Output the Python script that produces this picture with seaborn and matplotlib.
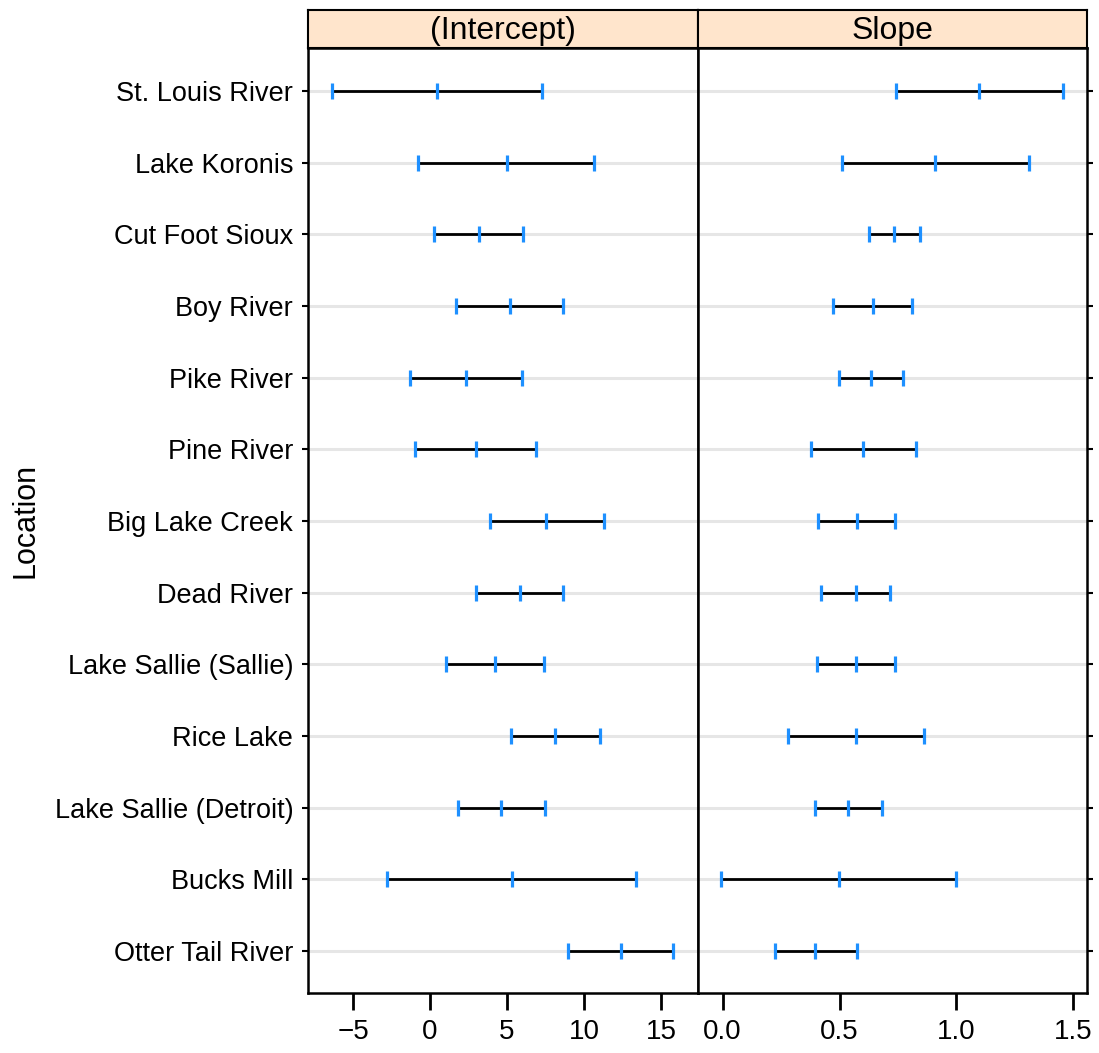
import pandas as pd
import numpy as np
import matplotlib
matplotlib.use("Agg")
import matplotlib.pyplot as plt
import seaborn as sns


# Data ........................................................................

locations = ["St. Louis River", "Lake Koronis", "Cut Foot Sioux", "Boy River",
             "Pike River", "Pine River", "Big Lake Creek", "Dead River",
             "Lake Sallie (Sallie)", "Rice Lake", "Lake Sallie (Detroit)",
             "Bucks Mill", "Otter Tail River"]

int_lower = [-6.34, -0.76, 0.26, 1.71, -1.30, -0.97, 3.87, 2.99, 1.02, 5.28, 1.82, -2.79, 8.98]
int_est   = [0.45, 4.98, 3.18, 5.22, 2.34, 2.97, 7.55, 5.82, 4.20, 8.14, 4.61, 5.30, 12.40]
int_upper = [7.29, 10.65, 6.04, 8.66, 5.97, 6.88, 11.32, 8.66, 7.40, 11.02, 7.49, 13.38, 15.80]

slope_lower = [0.743, 0.509, 0.626, 0.473, 0.497, 0.378, 0.409, 0.422, 0.402, 0.278, 0.396, -0.006, 0.224]
slope_est   = [1.095, 0.909, 0.733, 0.643, 0.634, 0.600, 0.573, 0.570, 0.571, 0.569, 0.537, 0.497, 0.396]
slope_upper = [1.457, 1.309, 0.843, 0.810, 0.771, 0.827, 0.737, 0.717, 0.738, 0.860, 0.681, 0.997, 0.573]

terms = ["(Intercept)", "Slope"]
xlims = [(-7.9, 17.4), (-0.106, 1.557)]
xticks = [[-5, 0, 5, 10, 15], [0.0, 0.5, 1.0, 1.5]]
xticklabels = [["\u22125", "0", "5", "10", "15"], ["0.0", "0.5", "1.0", "1.5"]]

# long table, one row per location and term
frames = []
for term, lo, est, up in [(terms[0], int_lower, int_est, int_upper),
                          (terms[1], slope_lower, slope_est, slope_upper)]:
    frames.append(pd.DataFrame({"Location": locations, "term": term,
                                "lower": lo, "est": est, "upper": up,
                                "row": np.arange(len(locations))}))
ci = pd.concat(frames, ignore_index=True)
ci_long = ci.melt(id_vars=["Location", "term", "row"], value_vars=["lower", "est", "upper"],
                  var_name="stat", value_name="value")


# Plot ........................................................................

sns.set_theme(style="white")
plt.rcParams["font.family"] = ["Liberation Sans", "DejaVu Sans"]
plt.rcParams["text.color"] = "black"
plt.rcParams["xtick.color"] = "black"
plt.rcParams["ytick.color"] = "black"

fig = plt.figure(figsize=(10.99, 10.53), dpi=100)
left, mid, right = 0.2807, 0.635, 0.9888
bottom, top, strip_top = 0.057, 0.9544, 0.9905

blue = "#1E90FF"
for i, term in enumerate(terms):
    x0 = left if i == 0 else mid
    x1 = mid if i == 0 else right
    ax = fig.add_axes([x0, bottom, x1 - x0, top - bottom])
    sub = ci[ci["term"] == term]
    sub_long = ci_long[ci_long["term"] == term]

    # reference lines
    ax.hlines(sub["row"], *xlims[i], color="#e6e6e6", lw=2.2, zorder=1)
    # interval segments
    ax.hlines(sub["row"], sub["lower"], sub["upper"], color="black", lw=2, zorder=2)
    # lower / estimate / upper marks
    sns.scatterplot(data=sub_long, x="value", y="row", marker="|", s=130,
                    color=blue, linewidth=2.3, ax=ax, zorder=3, legend=False)

    ax.set_xlim(*xlims[i])
    ax.set_ylim(len(locations) - 1 + 0.586, -0.6)
    ax.set_xticks(xticks[i])
    ax.set_xticklabels(xticklabels[i], fontsize=20)
    ax.set_xlabel("")
    ax.set_ylabel("")
    ax.set_yticks(range(len(locations)))
    if i == 0:
        ax.set_yticklabels(locations, fontsize=19.5)
        ax.tick_params(axis="y", left=True, right=False, length=4, width=1.5, pad=7)
    else:
        ax.set_yticklabels([])
        ax.tick_params(axis="y", left=False, right=True, length=4, width=1.5)
    ax.tick_params(axis="x", bottom=True, length=12, width=2, pad=7, direction="out")
    for sp in ax.spines.values():
        sp.set_visible(True)
        sp.set_color("black")
        sp.set_linewidth(1.8)

    # strip
    sax = fig.add_axes([x0, top, x1 - x0, strip_top - top])
    sax.set_facecolor("#FFE5CC")
    sax.set_xticks([])
    sax.set_yticks([])
    for sp in sax.spines.values():
        sp.set_visible(True)
        sp.set_color("black")
        sp.set_linewidth(1.5)
    sax.text(0.5, 0.45, term, ha="center", va="center", fontsize=23, transform=sax.transAxes)

fig.text(0.023, (bottom + top) / 2, "Location", rotation=90, ha="center", va="center", fontsize=22)

fig.savefig("out.png", dpi=100)
